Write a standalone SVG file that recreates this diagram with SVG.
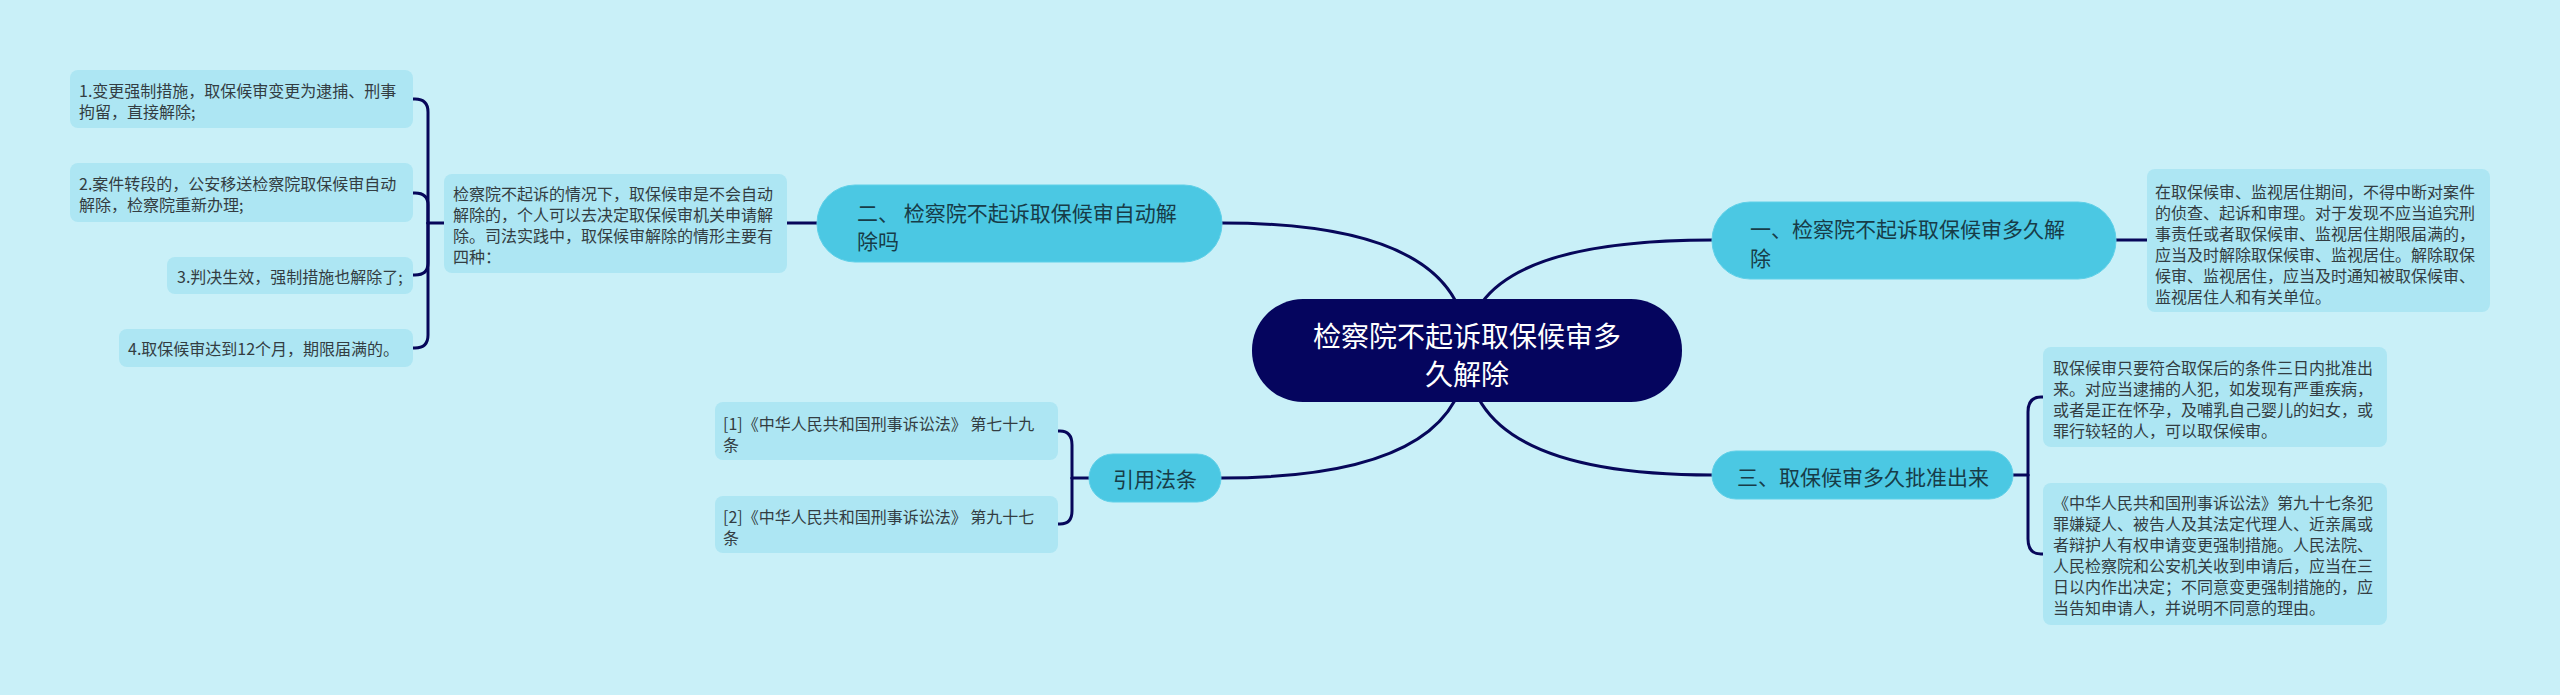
<svg xmlns="http://www.w3.org/2000/svg" width="2560" height="695" viewBox="0 0 2560 695">
<style>
.bg{fill:#c9f0f8}
.ln{fill:none;stroke:#07075a;stroke-width:3;stroke-linecap:round}
.leaf{fill:#ade6f3}
.br{fill:#4bc8e3;stroke:#5fd0e8;stroke-width:1}
.root{fill:#05055e}
.t{font-family:"Noto Sans CJK SC","Noto Sans",sans-serif;dominant-baseline:central}
.lt{font-size:16px;fill:#333d42}
.bt{font-size:21px;fill:#173c48}
.rt{font-size:28px;fill:#ffffff}
</style>
<rect class="bg" x="0" y="0" width="2560" height="695"/>
<g id="connectors">
<path class="ln" d="M1467,350 Q1467,223 1222,223"/>
<path class="ln" d="M1467,350 Q1467,240 1712,240"/>
<path class="ln" d="M1467,350 Q1467,475 1712,475"/>
<path class="ln" d="M1467,350 Q1467,478 1221,478"/>
<path class="ln" d="M817,223 L787,223"/>
<path class="ln" d="M444,223 L428,223"/>
<path class="ln" d="M428,223 L428,112 Q428,99 415,99 L413,99"/>
<path class="ln" d="M428,223 L428,205 Q428,193 415,193 L413,193"/>
<path class="ln" d="M428,223 L428,263 Q428,275 415,275 L413,275"/>
<path class="ln" d="M428,223 L428,335 Q428,348 415,348 L413,348"/>
<path class="ln" d="M2116,240 L2147,240"/>
<path class="ln" d="M2013,475 L2028,475"/>
<path class="ln" d="M2028,475 L2028,412 Q2028,397 2041,397 L2043,397"/>
<path class="ln" d="M2028,475 L2028,539 Q2028,554 2041,554 L2043,554"/>
<path class="ln" d="M1089,478 L1072,478"/>
<path class="ln" d="M1072,478 L1072,445 Q1072,431 1060,431 L1058,431"/>
<path class="ln" d="M1072,478 L1072,511 Q1072,524 1060,524 L1058,524"/>
</g>
<g id="root">
<rect class="root" x="1252" y="299" width="430" height="103" rx="51"/>
<text class="t rt" x="1467" y="335" text-anchor="middle">检察院不起诉取保候审多</text>
<text class="t rt" x="1467" y="373" text-anchor="middle">久解除</text>
</g>
<g id="b2">
<rect class="br" x="817" y="185" width="405" height="77" rx="38"/>
<text class="t bt" x="857" y="212">二、 检察院不起诉取保候审自动解</text>
<text class="t bt" x="857" y="240">除吗</text>
</g>
<g id="b2desc">
<rect class="leaf" x="444" y="174" width="343" height="99" rx="8"/>
<text class="t lt" x="453" y="193">检察院不起诉的情况下，取保候审是不会自动</text>
<text class="t lt" x="453" y="214">解除的，个人可以去决定取保候审机关申请解</text>
<text class="t lt" x="453" y="235">除。司法实践中，取保候审解除的情形主要有</text>
<text class="t lt" x="453" y="256">四种：</text>
</g>
<g id="l1">
<rect class="leaf" x="70" y="70" width="343" height="58" rx="8"/>
<text class="t lt" x="79" y="90">1.变更强制措施，取保候审变更为逮捕、刑事</text>
<text class="t lt" x="79" y="111">拘留，直接解除;</text>
</g>
<g id="l2">
<rect class="leaf" x="70" y="163" width="343" height="59" rx="8"/>
<text class="t lt" x="79" y="183">2.案件转段的，公安移送检察院取保候审自动</text>
<text class="t lt" x="79" y="204">解除，检察院重新办理;</text>
</g>
<g id="l3">
<rect class="leaf" x="167" y="257" width="246" height="37" rx="8"/>
<text class="t lt" x="177" y="276">3.判决生效，强制措施也解除了;</text>
</g>
<g id="l4">
<rect class="leaf" x="119" y="329" width="294" height="38" rx="8"/>
<text class="t lt" x="128" y="348">4.取保候审达到12个月，期限届满的。</text>
</g>
<g id="b1">
<rect class="br" x="1712" y="202" width="404" height="77" rx="38"/>
<text class="t bt" x="1750" y="228">一、检察院不起诉取保候审多久解</text>
<text class="t bt" x="1750" y="257">除</text>
</g>
<g id="b1desc">
<rect class="leaf" x="2147" y="169" width="343" height="143" rx="8"/>
<text class="t lt" x="2155" y="191">在取保候审、监视居住期间，不得中断对案件</text>
<text class="t lt" x="2155" y="212">的侦查、起诉和审理。对于发现不应当追究刑</text>
<text class="t lt" x="2155" y="233">事责任或者取保候审、监视居住期限届满的，</text>
<text class="t lt" x="2155" y="254">应当及时解除取保候审、监视居住。解除取保</text>
<text class="t lt" x="2155" y="275">候审、监视居住，应当及时通知被取保候审、</text>
<text class="t lt" x="2155" y="296">监视居住人和有关单位。</text>
</g>
<g id="b3">
<rect class="br" x="1712" y="451" width="301" height="48" rx="24"/>
<text class="t bt" x="1863" y="476" text-anchor="middle">三、取保候审多久批准出来</text>
</g>
<g id="b3l1">
<rect class="leaf" x="2043" y="347" width="344" height="100" rx="8"/>
<text class="t lt" x="2053" y="367">取保候审只要符合取保后的条件三日内批准出</text>
<text class="t lt" x="2053" y="388">来。对应当逮捕的人犯，如发现有严重疾病，</text>
<text class="t lt" x="2053" y="409">或者是正在怀孕，及哺乳自己婴儿的妇女，或</text>
<text class="t lt" x="2053" y="430">罪行较轻的人，可以取保候审。</text>
</g>
<g id="b3l2">
<rect class="leaf" x="2043" y="483" width="344" height="142" rx="8"/>
<text class="t lt" x="2053" y="502">《中华人民共和国刑事诉讼法》第九十七条犯</text>
<text class="t lt" x="2053" y="523">罪嫌疑人、被告人及其法定代理人、近亲属或</text>
<text class="t lt" x="2053" y="544">者辩护人有权申请变更强制措施。人民法院、</text>
<text class="t lt" x="2053" y="565">人民检察院和公安机关收到申请后，应当在三</text>
<text class="t lt" x="2053" y="586">日以内作出决定；不同意变更强制措施的，应</text>
<text class="t lt" x="2053" y="607">当告知申请人，并说明不同意的理由。</text>
</g>
<g id="b4">
<rect class="br" x="1089" y="454" width="132" height="48" rx="24"/>
<text class="t bt" x="1155" y="478" text-anchor="middle">引用法条</text>
</g>
<g id="ref1">
<rect class="leaf" x="715" y="402" width="343" height="58" rx="8"/>
<text class="t lt" x="723" y="423">[1]《中华人民共和国刑事诉讼法》 第七十九</text>
<text class="t lt" x="723" y="444">条</text>
</g>
<g id="ref2">
<rect class="leaf" x="715" y="496" width="343" height="57" rx="8"/>
<text class="t lt" x="723" y="516">[2]《中华人民共和国刑事诉讼法》 第九十七</text>
<text class="t lt" x="723" y="537">条</text>
</g>
</svg>
